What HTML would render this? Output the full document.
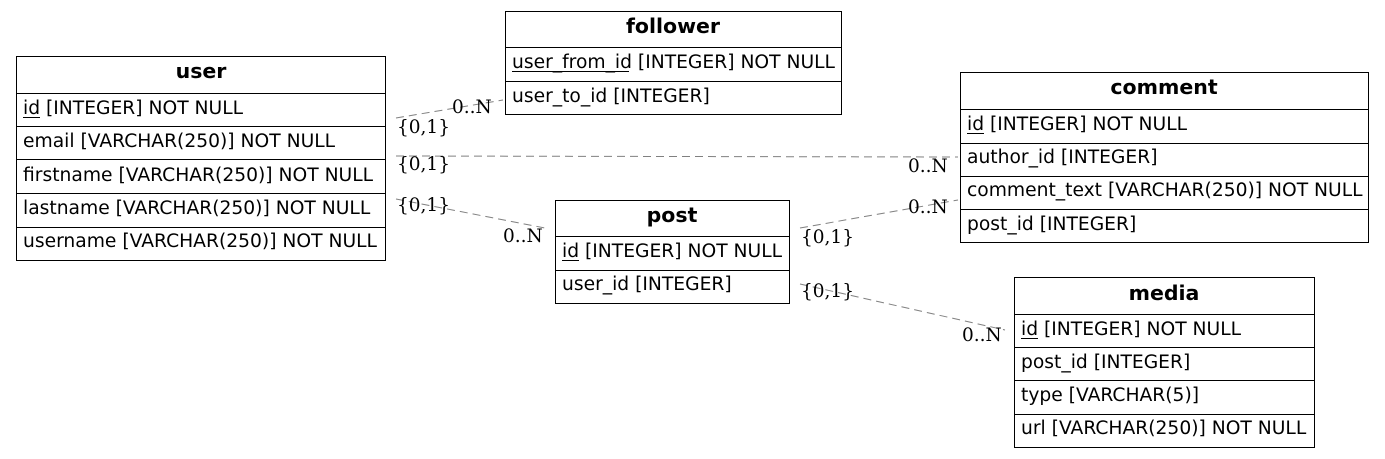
<!DOCTYPE html>
<html><head><meta charset="utf-8"><style>
html,body{margin:0;padding:0;background:#fff;width:1385px;height:459px;overflow:hidden}
svg{display:block}
.h{font-family:"DejaVu Sans","Liberation Sans",sans-serif;font-weight:bold;font-size:20.5px}
.r{font-family:"DejaVu Sans","Liberation Sans",sans-serif;font-size:18.7px}
.l{font-family:"DejaVu Serif","Liberation Serif",serif;font-size:18.5px}
</style></head><body>
<svg width="1385" height="459" xmlns="http://www.w3.org/2000/svg">
<g stroke="#808080" stroke-width="1" stroke-dasharray="8,5" fill="none">
<line x1="396" y1="118" x2="503" y2="100"/>
<line x1="396" y1="156" x2="958" y2="157"/>
<line x1="396" y1="199" x2="545" y2="228"/>
<line x1="800" y1="228" x2="958" y2="200"/>
<line x1="800" y1="284" x2="1005" y2="330"/>
</g>
<g class="l" fill="#000">
<text x="397" y="133">{0,1}</text><text x="452" y="113">0..N</text>
<text x="397" y="170">{0,1}</text><text x="908" y="172">0..N</text>
<text x="397" y="211">{0,1}</text><text x="503" y="242">0..N</text>
<text x="801" y="243">{0,1}</text><text x="908" y="213">0..N</text>
<text x="801" y="297">{0,1}</text><text x="962" y="341">0..N</text>
</g>
<g fill="none" stroke="#000" stroke-width="1">
<rect x="16.5" y="56.5" width="369" height="204"/>
<path d="M16 93.5H386M16 126.5H386M16 159.5H386M16 193.5H386M16 227.5H386"/>
<rect x="505.5" y="11.5" width="336" height="103"/>
<path d="M505 47.5H842M505 81.5H842"/>
<rect x="960.5" y="72.5" width="408" height="170"/>
<path d="M960 109.5H1369M960 143.5H1369M960 176.5H1369M960 209.5H1369"/>
<rect x="555.5" y="200.5" width="234" height="103"/>
<path d="M555 236.5H790M555 270.5H790"/>
<rect x="1014.5" y="277.5" width="300" height="170"/>
<path d="M1014 314.5H1315M1014 347.5H1315M1014 380.5H1315M1014 414.5H1315"/>
<path d="M23 117.5H40M512 71.5H629M967 133.5H984M562 260.5H579M1021 338.5H1038"/>
</g>
<g fill="#000">
<text class="h" x="201" y="78" text-anchor="middle">user</text>
<text class="r" x="23" y="114">id [INTEGER] NOT NULL</text>
<text class="r" x="23" y="147">email [VARCHAR(250)] NOT NULL</text>
<text class="r" x="23" y="181">firstname [VARCHAR(250)] NOT NULL</text>
<text class="r" x="23" y="214">lastname [VARCHAR(250)] NOT NULL</text>
<text class="r" x="23" y="247">username [VARCHAR(250)] NOT NULL</text>

<text class="h" x="673" y="33" text-anchor="middle">follower</text>
<text class="r" x="512" y="68">user_from_id [INTEGER] NOT NULL</text>
<text class="r" x="512" y="102">user_to_id [INTEGER]</text>

<text class="h" x="1164" y="94" text-anchor="middle">comment</text>
<text class="r" x="967" y="130">id [INTEGER] NOT NULL</text>
<text class="r" x="967" y="163">author_id [INTEGER]</text>
<text class="r" x="967" y="196">comment_text [VARCHAR(250)] NOT NULL</text>
<text class="r" x="967" y="230">post_id [INTEGER]</text>

<text class="h" x="672" y="222" text-anchor="middle">post</text>
<text class="r" x="562" y="257">id [INTEGER] NOT NULL</text>
<text class="r" x="562" y="290">user_id [INTEGER]</text>

<text class="h" x="1164" y="300" text-anchor="middle">media</text>
<text class="r" x="1021" y="335">id [INTEGER] NOT NULL</text>
<text class="r" x="1021" y="368">post_id [INTEGER]</text>
<text class="r" x="1021" y="401">type [VARCHAR(5)]</text>
<text class="r" x="1021" y="434">url [VARCHAR(250)] NOT NULL</text>
</g>
</svg>
</body></html>
